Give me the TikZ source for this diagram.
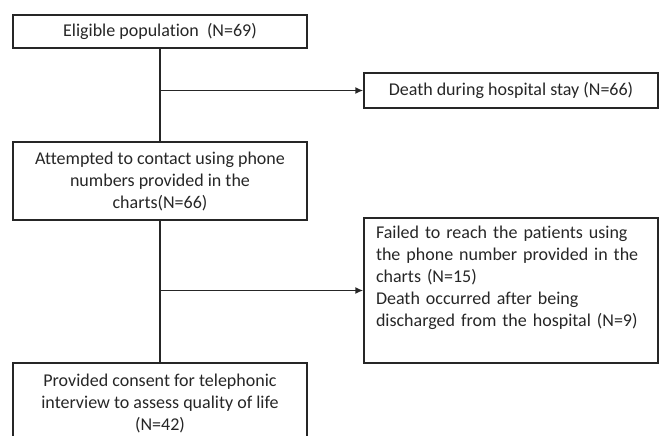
\documentclass[tikz,border=0pt]{standalone}
\usepackage{fontspec}
\setmainfont[Ligatures=NoCommon]{Carlito}
\usetikzlibrary{arrows.meta}

\begin{document}
\begin{tikzpicture}[x=1pt,y=-1pt,line width=1.5pt,
  box/.style={draw=black!85,text=black!85,inner sep=0pt,minimum width=294pt,
    font=\fontsize{18}{22}\selectfont,align=center},
  arr/.style={-{Latex[length=8pt,width=7pt]}}]
\clip (0,0) rectangle (659,436);
\node[box,minimum height=33pt] (elig) at (160,31.5) {Eligible population~ (N=69)};
\node[box,minimum height=35pt] (death) at (511,90.5) {Death during hospital stay (N=66)};
\node[box,minimum height=78pt] (contact) at (160,181)
  {Attempted to contact using phone\\ numbers provided in the\\ charts(N=66)};
\node[box,minimum height=145pt,text width=270pt,inner xsep=12pt,align=left] (lost) at (511,290.5)
  {Failed to reach the patients using\\ the phone number provided in the\\ charts (N=15)\\
   Death occurred after being\\ discharged from the hospital (N=9)\\ \strut};
\node[box,minimum height=80pt] (consent) at (160,403)
  {Provided consent for telephonic\\ interview to assess quality of life\\ (N=42)};
% main line and the two branches
\coordinate (b1) at (elig.south |- death.west);
\coordinate (b2) at (contact.south |- lost.west);
\draw[black!85] (elig) -- (contact);
\draw[black!85] (contact) -- (consent);
\draw[black!85,arr] (b1) -- (death);
\draw[black!85,arr] (b2) -- (lost);
\end{tikzpicture}
\end{document}
